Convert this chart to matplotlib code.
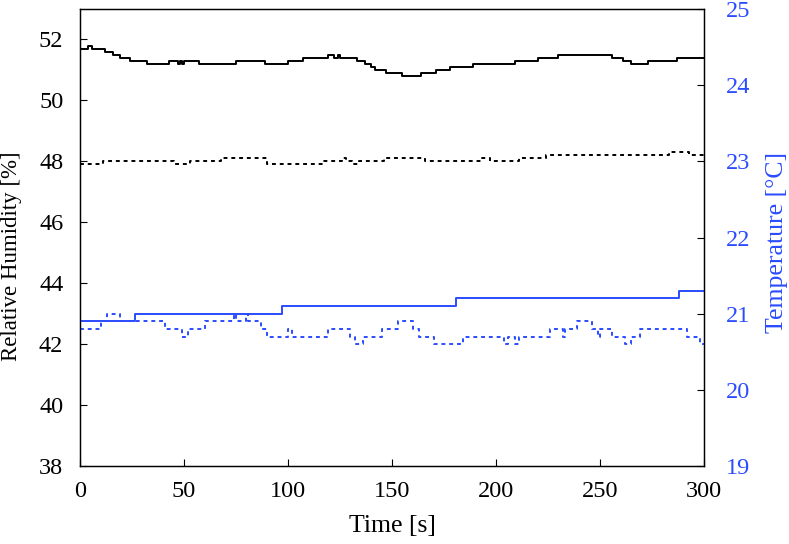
import matplotlib
matplotlib.use("Agg")
import matplotlib.pyplot as plt

# humidity, solid line: times where the value changes, and the values
rh1_t = [0, 4, 6, 12, 16, 19, 24, 32, 43, 47, 48, 49, 50, 57, 75, 89, 100, 107,
         119, 122, 124, 125, 133, 137, 140, 142, 147, 155, 164, 171, 178, 189,
         209, 220, 230, 256, 261, 265, 273, 287, 300]
rh1_v = [51.7, 51.8, 51.7, 51.6, 51.5, 51.4, 51.3, 51.2, 51.3, 51.2, 51.3, 51.2,
         51.3, 51.2, 51.3, 51.2, 51.3, 51.4, 51.5, 51.4, 51.5, 51.4, 51.3, 51.2,
         51.1, 51.0, 50.9, 50.8, 50.9, 51.0, 51.1, 51.2, 51.3, 51.4, 51.5, 51.4,
         51.3, 51.2, 51.3, 51.4, 51.4]

# humidity, dotted line
rh2_t = [0, 11, 45, 53, 68, 90, 117, 126, 128, 131, 134, 146, 166, 193, 197,
         211, 224, 283, 293, 300]
rh2_v = [47.9, 48.0, 47.9, 48.0, 48.1, 47.9, 48.0, 48.1, 48.0, 47.9, 48.0, 48.1,
         48.0, 48.1, 48.0, 48.1, 48.2, 48.3, 48.2, 48.2]

# temperature, solid line
t1_t = [0, 26.5, 97, 181, 288, 300]
t1_v = [20.9, 21.0, 21.1, 21.2, 21.3, 21.3]

# temperature, dotted line
t2_t = [0, 10, 13, 19, 41, 49, 52, 60, 74, 75, 80, 81, 87, 90, 100, 102, 119,
        130, 132, 136, 145, 153, 160, 163, 170, 184, 204, 206, 209, 211, 226,
        232, 233, 239, 246, 249, 250, 256, 262, 265, 269, 292, 298, 300]
t2_v = [20.8, 20.9, 21.0, 20.9, 20.8, 20.7, 20.8, 20.9, 21.0, 20.9, 21.0, 20.9,
        20.8, 20.7, 20.8, 20.7, 20.8, 20.7, 20.6, 20.7, 20.8, 20.9, 20.8, 20.7,
        20.6, 20.7, 20.6, 20.7, 20.6, 20.7, 20.8, 20.7, 20.8, 20.9, 20.8, 20.7,
        20.8, 20.7, 20.6, 20.7, 20.8, 20.7, 20.6, 20.6]

rh_ticks = [38, 40, 42, 44, 46, 48, 50, 52]
temp_ticks = [19, 20, 21, 22, 23, 24, 25]
time_ticks = [0, 50, 100, 150, 200, 250, 300]

blue = "#2b4cff"
plt.rcParams["font.family"] = ["Liberation Serif", "DejaVu Serif"]
plt.rcParams["font.size"] = 17.5

fig = plt.figure(figsize=(7.89, 5.44), dpi=100)
ax = fig.add_axes([80 / 789, 1 - 466 / 544, 624 / 789, 457 / 544])
ax2 = ax.twinx()

ax.plot(rh1_t, rh1_v, drawstyle="steps-post", color="black", lw=1.4)
ax.plot(rh2_t, rh2_v, drawstyle="steps-post", color="black", lw=1.4,
        linestyle=(0, (2, 2)))
ax2.plot(t1_t, t1_v, drawstyle="steps-post", color=blue, lw=1.4)
ax2.plot(t2_t, t2_v, drawstyle="steps-post", color=blue, lw=1.4,
         linestyle=(0, (2, 2)))

ax.set_xlim(0, 300)
ax.set_ylim(38, 53)
ax2.set_ylim(19, 25)
ax.set_xticks(time_ticks)
ax.set_yticks(rh_ticks)
ax2.set_yticks(temp_ticks)

ax.tick_params(direction="in", length=5, width=0.8, top=False, right=False)
ax.tick_params(axis="y", pad=12)
ax.tick_params(axis="x", pad=11)
ax2.tick_params(direction="in", length=5, width=0.8, labelcolor=blue, pad=16)
for a in (ax, ax2):
    for s in a.spines.values():
        s.set_linewidth(0.9)

ax.set_xlabel("Time [s]", fontsize=18.5, labelpad=9)
ax.set_ylabel("Relative Humidity [%]", fontsize=16.5, labelpad=12)
ax2.set_ylabel("Temperature [°C]", color=blue, fontsize=18.5, labelpad=11)
# labels sit a bit below the middle of the axis in the original
ax.yaxis.label.set_y(0.46)
ax2.yaxis.label.set_y(0.49)

fig.savefig("out.png", dpi=100)
